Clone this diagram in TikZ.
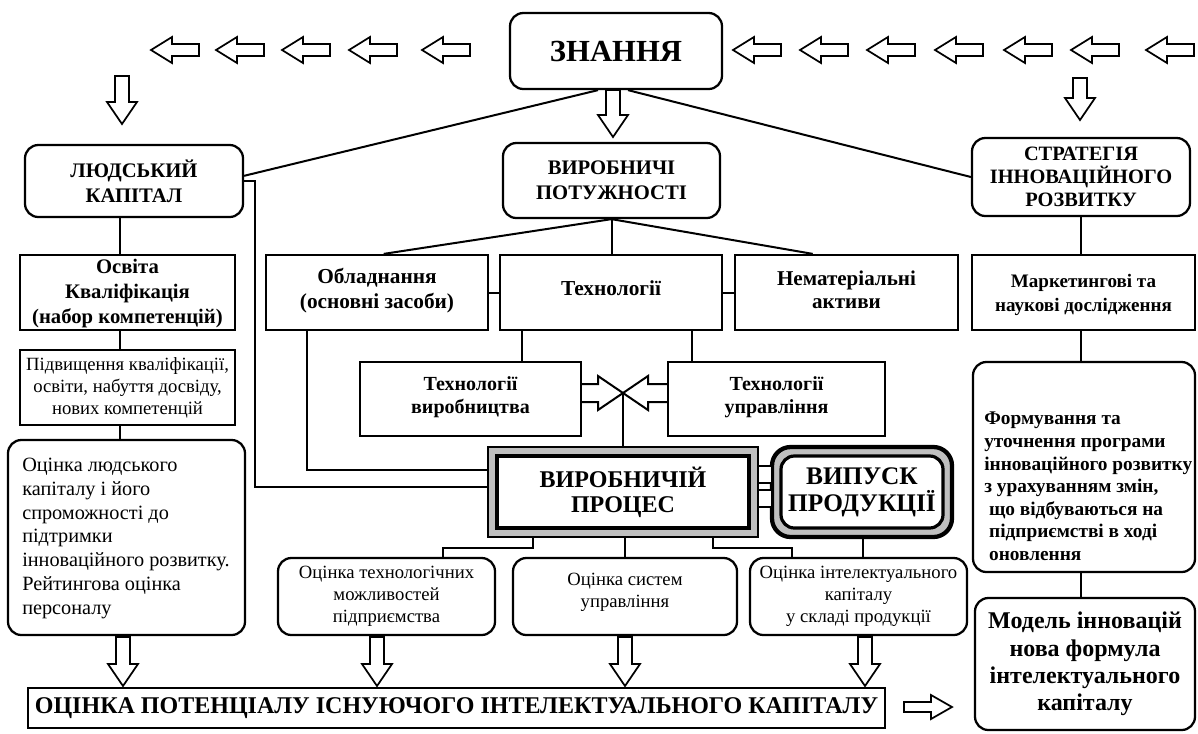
\documentclass[tikz,border=0pt]{standalone}
\usepackage{fontspec}
\setmainfont{Liberation Serif}
\usetikzlibrary{fit,calc}
\newcommand\fsz[2]{\fontsize{#1}{#2}\selectfont}
\tikzset{
  every node/.style={inner sep=0pt},
  bx/.style={draw, line width=1.7pt, fill=white},
  rbx/.style={bx, rounded corners=10pt},
  txt/.style={align=center},
  ln/.style={line width=1.5pt},
  blk/.style={draw, line width=1.3pt, fill=white, line join=miter},
}
\newcommand\arrL[2]{\draw[blk] (#1-24,#2) -- (#1-3,#2-13) -- (#1-3,#2-6) -- (#1+24,#2-6) -- (#1+24,#2+6) -- (#1-3,#2+6) -- (#1-3,#2+13) -- cycle;}
\newcommand\arrR[2]{\draw[blk] (#1+24,#2) -- (#1+3,#2-12) -- (#1+3,#2-5) -- (#1-24,#2-5) -- (#1-24,#2+5) -- (#1+3,#2+5) -- (#1+3,#2+12) -- cycle;}
\newcommand\arrD[3]{\draw[blk] (#1-7,#2) -- (#1+7,#2) -- (#1+7,#3-22) -- (#1+15,#3-22) -- (#1,#3) -- (#1-15,#3-22) -- (#1-7,#3-22) -- cycle;}
\begin{document}
\begin{tikzpicture}[x=0.75pt,y=-0.75pt]
\useasboundingbox (0,0) rectangle (1198,733);
\fill[white] (0,0) rectangle (1198,733);

% ---- boxes
\node[rbx, fit={(510,13) (722,89)}] (zn) {};
\node[rbx, fit={(25,145) (243,217)}] (ljud) {};
\node[rbx, fit={(503,143) (720,218)}] (vpot) {};
\node[rbx, fit={(972,138) (1190,216)}] (str) {};
\node[bx, fit={(20,255) (235,330)}] (osv) {};
\node[bx, fit={(266,255) (488,330)}] (obl) {};
\node[bx, fit={(500,255) (722,330)}] (tech) {};
\node[bx, fit={(735,255) (958,330)}] (nem) {};
\node[bx, fit={(972,255) (1195,330)}] (mark) {};
\node[bx, fit={(20,350) (235,425)}] (pidv) {};
\node[bx, fit={(360,362) (581,436)}] (tvyr) {};
\node[bx, fit={(668,362) (885,436)}] (tupr) {};
\node[rbx, fit={(8,440) (245,635)}] (ocl) {};
\node[rbx, fit={(973,362) (1195,572)}] (form) {};
\node[fit={(488,447) (758,537)}, draw, line width=0.8pt, fill=gray!50] (vp) {};
\node[fit={(497,456) (749,528)}, draw, line width=2.8pt, fill=white] (vpin) {};
\node[fit={(772,447) (952,537)}, draw, line width=3.2pt, fill=gray!50, rounded corners=14pt] (vyp) {};
\node[fit={(781,456) (943,528)}, draw, line width=2.4pt, fill=white, rounded corners=10pt] (vypin) {};
\node[rbx, fit={(278,558) (495,635)}] (otech) {};
\node[rbx, fit={(513,558) (737,635)}] (osys) {};
\node[rbx, fit={(750,558) (967,635)}] (oint) {};
\node[rbx, fit={(975,598) (1195,730)}] (model) {};
\node[bx, fit={(28,688) (885,728)}] (total) {};

% ---- texts
\node[txt, font=\bfseries\fsz{23}{28}] (znt) at (zn.center) {ЗНАННЯ};
\node[txt, font=\bfseries\fsz{15.5}{18.75}] (ljudt) at (ljud.center) {ЛЮДСЬКИЙ\\КАПІТАЛ};
\node[txt, font=\bfseries\fsz{15.5}{18.75}] (vpott) at (vpot.center) {ВИРОБНИЧІ\\ПОТУЖНОСТІ};
\node[txt, font=\bfseries\fsz{15.3}{17}] (strt) at (str.center) {СТРАТЕГІЯ\\ІННОВАЦІЙНОГО\\РОЗВИТКУ};
\node[txt, font=\bfseries\fsz{15.5}{18.75}] (osvt) at ($(osv.center)+(0,1)$) {Освіта\\Кваліфікація\\(набор компетенцій)};
\node[txt, font=\bfseries\fsz{16}{18.75}] (oblt) at ($(obl.center)+(0,-2)$) {Обладнання\\(основні засоби)};
\node[txt, font=\bfseries\fsz{16}{18.75}] (techt) at ($(tech.center)+(0,-4)$) {Технології};
\node[txt, font=\bfseries\fsz{15.8}{17.5}] (nemt) at ($(nem.center)+(0,-3)$) {Нематеріальні\\активи};
\node[txt, font=\bfseries\fsz{14.3}{18}] (markt) at ($(mark.center)+(0,2)$) {Маркетингові та\\наукові дослідження};
\node[txt, font=\fsz{14}{16.5}] (pidvt) at (pidv.center) {Підвищення кваліфікації,\\освіти, набуття досвіду,\\нових компетенцій};
\node[txt, font=\bfseries\fsz{15}{17}] (tvyrt) at ($(tvyr.center)+(0,-2)$) {Технології\\виробництва};
\node[txt, font=\bfseries\fsz{15}{17}] (tuprt) at ($(tupr.center)+(0,-2)$) {Технології\\управління};
\node[anchor=north west, align=left, font=\fsz{15.2}{17.8}] (oclt) at (22,458) {Оцінка людського\\капіталу і його\\спроможності до\\підтримки\\інноваційного розвитку.\\Рейтингова оцінка\\персоналу};
\node[anchor=north west, align=left, font=\bfseries\fsz{14.5}{16.9}] (formt) at (984,412) {Формування та\\уточнення програми\\інноваційного розвитку\\з урахуванням змін,\\\hspace*{0.25em}що відбуваються на\\\hspace*{0.25em}підприємстві в ході\\\hspace*{0.25em}оновлення};
\node[txt, font=\bfseries\fsz{18}{19}] (vpt) at (vpin.center) {ВИРОБНИЧІЙ\\ПРОЦЕС};
\node[txt, font=\bfseries\fsz{19}{20}] (vypt) at (vypin.center) {ВИПУСК\\ПРОДУКЦІЇ};
\node[txt, font=\fsz{14}{16.5}] (otecht) at (otech.center) {Оцінка технологічних\\можливостей\\підприємства};
\node[txt, font=\fsz{14}{16.5}] (osyst) at ($(osys.center)+(0,-4)$) {Оцінка систем\\управління};
\node[txt, font=\fsz{14}{16.5}] (ointt) at (oint.center) {Оцінка інтелектуального\\капіталу\\у складі продукції};
\node[txt, font=\bfseries\fsz{18}{20.5}] (modelt) at (model.center) {Модель інновацій\\нова формула\\інтелектуального\\капіталу};
\node[txt, font=\bfseries\fsz{18}{20}] (totalt) at (total.center) {ОЦІНКА ПОТЕНЦІАЛУ ІСНУЮЧОГО ІНТЕЛЕКТУАЛЬНОГО КАПІТАЛУ};

% ---- helper coordinates
\coordinate (colL) at (120,0);
\coordinate (colR) at (1081,0);
\coordinate (b1) at (255,181);
\coordinate (b2) at (255,487);
\coordinate (b3) at (307,470);
\coordinate (t1) at (522,0);
\coordinate (t2) at (692,0);
\coordinate (X) at (623,393);
\coordinate (d1) at (533,548);
\coordinate (d2) at (443,548);
\coordinate (d3) at (713,548);
\coordinate (d4) at (792,548);
\coordinate (d5) at (863,0);

% ---- connectors
\draw[ln] ($(zn.south)+(-18,0)$) -- ($(ljud.north east)!0.43!(ljud.south east)$);
\draw[ln] ($(zn.south)+(12,0)$) -- ($(str.north west)!0.5!(str.south west)$);
\draw[ln] (ljud.east |- b1) -- (b1) -- (b2) -- (vp.west |- b2);
\draw[ln] (ljud.south -| colL) -- (osv.north -| colL);
\draw[ln] (osv.south -| colL) -- (pidv.north -| colL);
\draw[ln] (pidv.south -| colL) -- (ocl.north -| colL);
\draw[ln] (vpot.south) -- ($(obl.north west)!0.53!(obl.north east)$);
\draw[ln] (vpot.south) -- (tech.north -| vpot.south);
\draw[ln] (vpot.south) -- ($(nem.north west)!0.35!(nem.north east)$);
\draw[ln] (obl.east) -- (tech.west);
\draw[ln] (tech.east) -- (nem.west);
\draw[ln] (str.south -| colR) -- (mark.north -| colR);
\draw[ln] (mark.south -| colR) -- (form.north -| colR);
\draw[ln] (form.south -| colR) -- (model.north -| colR);
\draw[ln] (tech.south -| t1) -- (tvyr.north -| t1);
\draw[ln] (tech.south -| t2) -- (tupr.north -| t2);
\draw[ln] (obl.south -| b3) -- (b3) -- (vp.west |- b3);
% cross arrows
\draw[ln, line join=miter] ($(X)+(-42,-9)$) -- ($(X)+(-25,-9)$) -- ($(X)+(-25,-17)$) -- (X) -- ($(X)+(-25,17)$) -- ($(X)+(-25,9)$) -- ($(X)+(-42,9)$);
\draw[ln, line join=miter] ($(X)+(45,-9)$) -- ($(X)+(25,-9)$) -- ($(X)+(25,-17)$) -- (X) -- ($(X)+(25,17)$) -- ($(X)+(25,9)$) -- ($(X)+(45,9)$);
\draw[ln] (X) -- (vp.north -| X);
% below production
\draw[ln] (vp.south -| d1) -- (d1) -- (d2) -- (otech.north -| d2);
\draw[ln] (vp.south -| osys.north) -- (osys.north);
\draw[ln] (vp.south -| d3) -- (d3) -- (d4) -- (oint.north -| d4);
\draw[ln] (vyp.south -| d5) -- (oint.north -| d5);
% ladder between process and output
\draw[line width=2pt, fill=white] (758,466) rectangle (772,483);
\draw[line width=2pt, fill=white] (758,490) rectangle (772,507);

% ---- block arrows
\foreach \x in {175,240,306,373,446} {\arrL{\x}{50}}
\foreach \x in {757,824,891,959,1028,1095,1170} {\arrL{\x}{50}}
\arrD{122}{76}{124}
\arrD{613}{90}{137}
\arrD{1080}{78}{120}
\arrD{123}{637}{686}
\arrD{377}{637}{686}
\arrD{625}{637}{686}
\arrD{865}{637}{686}
\arrR{928}{707}
\end{tikzpicture}
\end{document}
